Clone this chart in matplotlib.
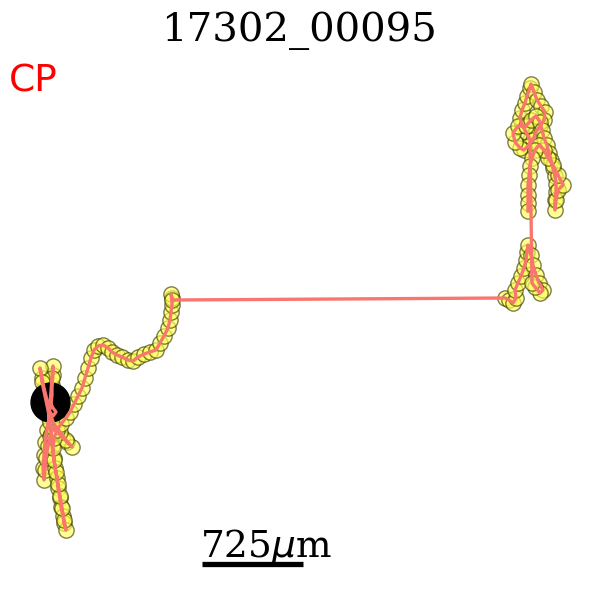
import matplotlib
matplotlib.use("Agg")
import matplotlib.pyplot as plt

# track positions in image pixels (x right, y down), first point = start
track_x = [50, 53, 56, 53, 49, 51, 52, 52, 53, 53,
           52, 51, 50, 49, 47, 45, 44, 43, 44,
           45, 46, 48, 50, 53, 57, 62, 67, 72,
           66, 60, 54, 50, 47, 44, 42, 40,
           42, 45, 48, 50, 51, 52, 54, 55, 57, 58, 60, 61, 63, 64, 66,
           64, 62, 60, 58, 56, 54, 53, 54, 57, 61, 66, 70, 74, 78, 82, 85, 88, 91, 94, 98,
           103, 108, 112, 117, 122, 128, 133, 138, 144, 150, 156, 160, 164, 168, 170, 171, 172, 172, 171, 172,
           505, 509, 513, 516, 515, 518, 521, 524, 526, 527, 528, 531, 533, 536, 539, 543, 540, 535, 532,
           530, 526, 522, 520, 522, 525, 527, 530, 531, 534, 537, 541, 545, 544, 540, 536, 533, 528, 524, 520,
           515, 513, 518, 526, 531, 536, 540, 542, 544, 547, 549, 551, 553, 555, 556, 556, 555, 555,
           556, 558, 563, 558, 553, 548, 544, 539, 535, 532, 530, 529, 528, 528, 528, 528]
track_y = [402, 408, 412, 416, 411, 404, 395, 385, 375, 366,
           378, 392, 405, 418, 430, 442, 455, 468, 480,
           470, 458, 446, 436, 428, 432, 437, 442, 447,
           440, 432, 424, 414, 400, 388, 378, 368,
           382, 396, 410, 422, 434, 446, 458, 468, 478, 488, 498, 507, 516, 523, 530,
           520, 508, 496, 484, 472, 460, 448, 438, 430, 424, 418, 412, 404, 396, 388, 378, 368, 358, 350, 346,
           345, 348, 352, 355, 357, 360, 361, 357, 354, 352, 350, 343, 336, 328, 320, 312, 305, 298, 294, 300,
           298, 300, 303, 298, 290, 283, 276, 268, 260, 252, 245, 255, 265, 275, 283, 290, 293, 287, 283,
           140, 132, 125, 118, 110, 103, 96, 88, 84, 92, 100, 106, 112, 120, 126, 132, 140, 146, 150, 148,
           142, 133, 126, 126, 120, 116, 122, 130, 138, 145, 153, 160, 168, 176, 184, 192, 200, 210,
           200, 190, 185, 175, 165, 158, 150, 145, 150, 158, 166, 175, 185, 195, 203, 211]

title = "17302_00095"
condition = "CP"
bar_um = 725
um_per_px = 725 / 101.0

fig = plt.figure(figsize=(6, 6), dpi=100)
ax = fig.add_axes([0, 0, 1, 1])

ax.plot(track_x, track_y, 'o', ms=11, mfc='#ffff5a', mec='#3a3a00', mew=1.0,
        alpha=0.65, ls='none', zorder=2)
# start marker
ax.plot(track_x[0], track_y[0], 'o', ms=28, color='k', zorder=2.5)
ax.plot(track_x, track_y, '-', color='#f8766d', lw=2.4, zorder=3)

# scale bar
bar_len = bar_um / um_per_px
ax.plot([202, 202 + bar_len], [564, 564], color='k', lw=3.8, solid_capstyle='butt')
ax.text(200, 557, r"%d$\mu$m" % bar_um, ha='left', va='baseline',
        fontsize=27, family='DejaVu Serif')

ax.text(299, 41, title, ha='center', va='baseline', fontsize=29, family='DejaVu Serif')
ax.text(9, 91, condition, ha='left', va='baseline', fontsize=27, color='red', family='DejaVu Sans')

ax.set_xlim(0, 600)
ax.set_ylim(600, 0)
ax.set_aspect('equal')
ax.axis('off')
fig.savefig("out.png", dpi=100)
